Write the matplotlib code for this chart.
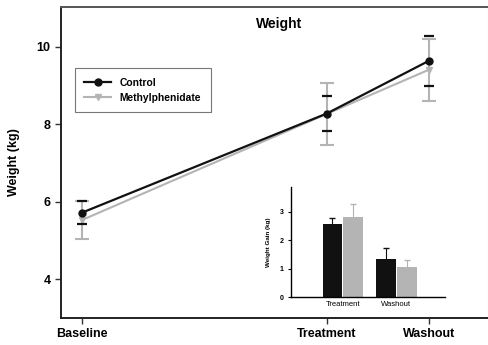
import matplotlib.pyplot as plt
from matplotlib.lines import Line2D

plt.rcParams["font.family"] = ["Liberation Sans", "DejaVu Sans"]
plt.rcParams["font.weight"] = "bold"

# main panel: weight over time
timepoints = ["Baseline", "Treatment", "Washout"]
weeks = [0, 12, 17]
control_mean = [5.72, 8.28, 9.64]
control_err = [0.30, 0.44, 0.65]
mph_mean = [5.53, 8.27, 9.41]
mph_err = [0.50, 0.80, 0.80]

# inset: weight gain
gain_groups = ["Treatment", "Washout"]
gain_control = [2.57, 1.33]
gain_control_err = [0.20, 0.38]
gain_mph = [2.83, 1.05]
gain_mph_err = [0.43, 0.25]

BLACK = "#111111"
GRAY = "#b4b4b4"

fig = plt.figure(figsize=(4.89, 3.45), dpi=100)
ax = fig.add_axes([0.1247, 0.0783, 0.8733, 0.9014])

ax.errorbar(weeks, mph_mean, yerr=mph_err, color=GRAY, marker="v", ms=5,
            lw=1.5, elinewidth=1.5, capsize=5, capthick=1.5, zorder=2)
ax.errorbar(weeks, control_mean, yerr=control_err, color=BLACK, marker="o", ms=5,
            lw=1.6, elinewidth=0, capsize=3.5, capthick=1.6, zorder=3)

ax.set_xlim(-1.03, 19.9)
ax.set_ylim(3, 11.03)
ax.set_xticks(weeks)
ax.set_xticklabels(timepoints, fontsize=9, fontweight="bold")
ax.set_yticks([4, 6, 8, 10])
ax.tick_params(labelsize=9, length=4, width=1, color="#333333")
ax.set_ylabel("Weight (kg)", fontsize=9, fontweight="bold", labelpad=12)
ax.text(0.51, 0.945, "Weight", transform=ax.transAxes, ha="center",
        va="center", fontsize=10, fontweight="bold")
for side in ["left", "bottom"]:
    ax.spines[side].set_linewidth(1.4)
    ax.spines[side].set_color("#222222")
ax.spines["top"].set_linewidth(1.4)
ax.spines["top"].set_color("#555555")
ax.spines["right"].set_color("#dddddd")

handles = [
    Line2D([], [], color=BLACK, marker="o", ms=5, lw=1.6, label="Control"),
    Line2D([], [], color=GRAY, marker="v", ms=5, lw=1.5, label="Methylphenidate"),
]
leg = ax.legend(handles=handles, loc="upper left",
                bbox_to_anchor=(0.02, 0.82), fontsize=7.4, frameon=True,
                fancybox=False, edgecolor="#555555", handlelength=2.6,
                borderpad=0.95, labelspacing=0.45)
leg.get_frame().set_linewidth(0.8)

# inset bar chart
ins = fig.add_axes([0.595, 0.139, 0.315, 0.319])
w = 0.37
pos = range(len(gain_groups))
ins.bar([p - w / 2 - 0.01 for p in pos], gain_control, width=w, color=BLACK,
        yerr=gain_control_err, error_kw=dict(ecolor=BLACK, capsize=2, lw=0.8))
ins.bar([p + w / 2 + 0.01 for p in pos], gain_mph, width=w, color=GRAY,
        yerr=gain_mph_err, error_kw=dict(ecolor=GRAY, capsize=2, lw=0.8))
ins.set_xlim(-0.97, 1.91)
ins.set_ylim(0, 3.87)
ins.set_xticks(list(pos))
ins.set_xticklabels(gain_groups, fontsize=5.5, fontweight="normal")
ins.set_yticks([0, 1, 2, 3])
ins.tick_params(axis="y", labelsize=5, length=2, width=0.8)
ins.tick_params(axis="x", length=0, pad=3)
ins.set_ylabel("Weight Gain (kg)", fontsize=4.5, fontweight="bold", labelpad=6)
ins.spines["top"].set_visible(False)
ins.spines["right"].set_visible(False)
for side in ["left", "bottom"]:
    ins.spines[side].set_linewidth(1.0)

fig.savefig("out.png", dpi=100)
